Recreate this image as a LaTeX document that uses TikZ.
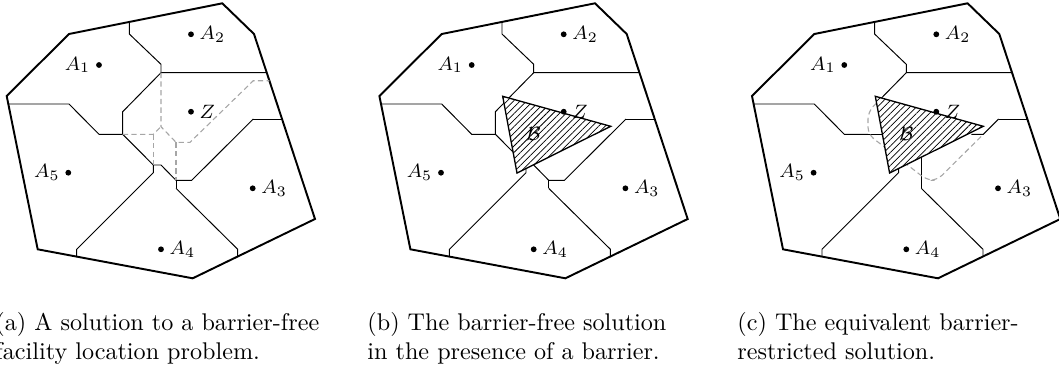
\documentclass[tikz,border=0pt]{standalone}
\usepackage{amsmath,amssymb}
\usetikzlibrary{patterns.meta}
\tikzset{
  cellout/.style={line width=0.8pt,line join=miter},
  bisec/.style={line width=0.4pt},
  oldbisec/.style={gray!70,line width=0.45pt,dash pattern=on 2.2pt off 1.4pt},
  barrier/.style={draw,line width=0.55pt,preaction={fill=white},
    pattern={Lines[angle=45,distance=1.9pt,line width=0.3pt]}},
  site/.style={circle,fill=black,inner sep=0pt,minimum size=2.4pt},
  sitelbl/.style={font=\footnotesize,inner sep=2pt},
  subcap/.style={anchor=base west,align=left,inner sep=0pt},
}
% outline, cell corners and the bisectors every panel shares
\newcommand{\cellbase}{%
  \coordinate (o1) at (222.3,3.3);
  \coordinate (o2) at (254,34);
  \coordinate (o3) at (315,219);
  \coordinate (o4) at (192.7,278.3);
  \coordinate (o5) at (37.7,249.3);
  \coordinate (o6) at (6.7,96);
  \coordinate (o7) at (69,34);
  \coordinate (q1) at (129.3,21.9);
  \coordinate (q2) at (129.3,34);
  \coordinate (q3) at (161,64.3);
  \coordinate (q4) at (161,72.7);
  \coordinate (q5) at (266.8,72.7);
  \coordinate (q6) at (122.7,111.7);
  \coordinate (q7) at (122.7,134.3);
  \coordinate (q8) at (99,134.3);
  \coordinate (q9) at (69,104);
  \coordinate (q10) at (8.3,104);
  \coordinate (q11) at (153.3,165);
  \coordinate (q12) at (161,165);
  \coordinate (q13) at (176,180.3);
  \coordinate (q14) at (191.7,180.3);
  \coordinate (q15) at (253.3,119);
  \coordinate (q16) at (282,119);
  \coordinate (q17) at (153.3,172.7);
  \coordinate (q18) at (76.7,249.3);
  \coordinate (q19) at (76.7,256.6);
  \coordinate (q20) at (176,188.3);
  \coordinate (q21) at (237.7,249.3);
  \coordinate (q22) at (237.7,256.5);
  \draw[cellout] (o1) -- (o2) -- (o3) -- (o4) -- (o5) -- (o6) -- (o7) -- cycle;
  \draw[bisec] (q1) -- (q2) -- (q3) -- (q4) -- (q5);
  \draw[bisec] (q7) -- (q8) -- (q9) -- (q10);
  \draw[bisec] (q15) -- (q16);
  \draw[bisec] (q11) -- (q17) -- (q18) -- (q19);
  \draw[bisec] (q20) -- (q21) -- (q22);
}
% the unrestricted cell of Z
\newcommand{\freecell}{%
  \draw[bisec] (q4) -- (q6) -- (q7) -- (q11) -- (q12) -- (q13) -- (q14) -- (q15);
  \draw[bisec] (q13) -- (q20);
}
\newcommand{\barriertri}{%
  \coordinate (t1) at (130,96.3);
  \coordinate (t2) at (238,126.3);
  \coordinate (t3) at (144.3,173);
  \draw[barrier] (t1) -- (t2) -- (t3) -- cycle;
  \node[font=\footnotesize] (blbl) at (161,134) {$\mathcal{B}$};
}
\newcommand{\cellsites}{%
  \node[site,label={[sitelbl]left:$A_1$}] (a1) at (99,65) {};
  \node[site,label={[sitelbl]right:$A_2$}] (a2) at (191,34.3) {};
  \node[site,label={[sitelbl]right:$Z$}] (z) at (191,111.7) {};
  \node[site,label={[sitelbl]left:$A_5$}] (a5) at (68.3,172.7) {};
  \node[site,label={[sitelbl]right:$A_3$}] (a3) at (252.7,188.3) {};
  \node[site,label={[sitelbl]right:$A_4$}] (a4) at (161,249.3) {};
}

\begin{document}
\begin{tikzpicture}[x=0.4141pt,y=-0.4141pt]
  \useasboundingbox (0,0) rectangle (1059,368);

  % (a) barrier-free
  \begin{scope}
    \cellbase
    \freecell
    \coordinate (d1) at (161,126.7);
    \coordinate (d2) at (176,142.3);
    \coordinate (d3) at (190,142.3);
    \coordinate (d4) at (253.3,80.7);
    \coordinate (d5) at (269.4,80.7);
    \coordinate (d6) at (153.3,134.3);
    \draw[oldbisec] (q4) -- (d1) -- (d2) -- (d3) -- (d4) -- (d5);
    \draw[oldbisec] (q7) -- (d6) -- (d1);
    \draw[oldbisec] (d6) -- (q11);
    \draw[oldbisec] (d2) -- (q13);
    \cellsites
  \end{scope}

  % (b) same solution, barrier added
  \begin{scope}[shift={(372.7,0)}]
    \cellbase
    \freecell
    \barriertri
    \cellsites
  \end{scope}

  % (c) barrier-restricted
  \begin{scope}[shift={(745.3,0)}]
    \cellbase
    \coordinate (c1) at (134,100.2);
    \coordinate (c2) at (141,134.3);
    \coordinate (c3) at (238,134.3);
    \coordinate (c4) at (226,134.3);
    \coordinate (c5) at (176,152);
    \coordinate (e1) at (131.25,103);
    \coordinate (e2) at (182,180.3);
    \draw[bisec] (q4) -- (c1);
    \draw[bisec] (q7) -- (c2);
    \draw[bisec] (q15) -- (c3) -- (c4);
    \draw[bisec] (c5) -- (q20);
    \draw[oldbisec,rounded corners=3pt] (e1) -- (q6) -- (q7) -- (e2) -- (q14) -- (c3);
    \barriertri
    \cellsites
  \end{scope}

  \node[subcap] (capa) at (-5,359) {(a) A solution to a barrier-free\\facility location problem.};
  \node[subcap] (capb) at (367,359) {(b) The barrier-free solution\\in the presence of a barrier.};
  \node[subcap] (capc) at (737,359) {(c) The equivalent barrier-\\restricted solution.};
\end{tikzpicture}
\end{document}
